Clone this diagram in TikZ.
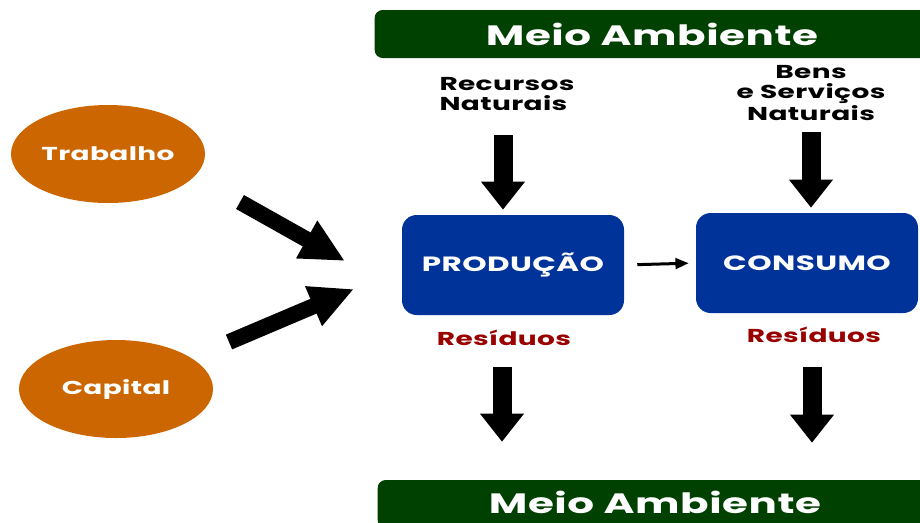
\documentclass[tikz,border=0pt]{standalone}
\usepackage{fontspec}
\setmainfont{Poppins}[FakeStretch=1.5, LetterSpace=2]
\usetikzlibrary{arrows.meta,shapes.geometric,positioning}

\definecolor{ambgreen}{RGB}{0,64,0}
\definecolor{factorange}{RGB}{204,102,0}
\definecolor{sectorblue}{RGB}{0,51,153}
\definecolor{residred}{RGB}{153,0,0}

\tikzset{
  ambbar/.style={fill=ambgreen, rounded corners=6pt, text=white, inner sep=0pt,
    minimum width=416pt, minimum height=36pt, font=\fontsize{21}{24}\selectfont\bfseries},
  factor/.style={ellipse, fill=factorange, text=white, inner sep=0pt,
    minimum width=145.5pt, minimum height=73.5pt, font=\fontsize{14}{16}\selectfont\bfseries},
  sector/.style={fill=sectorblue, rounded corners=11pt, text=white, inner sep=0pt,
    minimum width=166.5pt, minimum height=75pt, font=\fontsize{15.5}{17}\selectfont\bfseries},
  flowtext/.style={inner sep=0pt, font=\fontsize{14}{15}\selectfont\bfseries},
  residtext/.style={inner sep=0pt, text=residred, font=\fontsize{14}{15}\selectfont\bfseries},
  bigarrow/.style={line width=14.25pt, -{Triangle[width=31.5pt,length=21pt]}},
  slantarrow/.style={line width=12pt, -{Triangle[width=30pt,length=33pt]}},
  smallarrow/.style={line width=2.25pt, -{Triangle[width=8pt,length=10pt]}}
}

\begin{document}
\begin{tikzpicture}[x=0.75pt,y=0.75pt,yscale=-1,xscale=1]
\clip (0,0) rectangle (920,522);

% environment bars
\node[ambbar] (amb1) at (652,34) {Meio Ambiente};
\node[ambbar] (amb2) at (655,504) {};
\node[inner sep=0pt, text=white, font=\fontsize{21}{24}\selectfont\bfseries] (amb2txt) at (655,502) {Meio Ambiente};

% factors
\node[factor] (trab) at (108,154) {Trabalho};
\node[factor] (capi) at (116,389) {Capital};

% sectors
\node[sector] (prod) at (513,265) {PRODUÇÃO};
\node[sector] (cons) at (807,263) {CONSUMO};

% inputs
\node[flowtext, align=left] (rec) at (507,94) {Recursos\\Naturais};
\node[flowtext, align=center] (bens) at (811,93) {Bens\\e Serviços\\Naturais};

% residues
\node[residtext] (res1) at (504,338) {Resíduos};
\node[residtext] (res2) at (814,335) {Resíduos};

% slant arrows
\coordinate (trabtail) at (240,202);
\coordinate (trabtip) at (345,261);
\coordinate (capitail) at (229,342);
\coordinate (capitip) at (354,289);
\draw[slantarrow] (trabtail) -- (trabtip);
\draw[slantarrow] (capitail) -- (capitip);

% vertical arrows
\draw[bigarrow, shorten <=30.75pt, shorten >=3.75pt] ([xshift=-3pt]rec.center) -- ([xshift=-3pt]rec.center |- prod.north);
\draw[bigarrow, shorten <=29.25pt, shorten >=3.75pt] (bens.center) -- (bens.center |- cons.north);
\draw[bigarrow, shorten <=21.75pt, shorten >=28.5pt] ([xshift=-1.5pt]res1.center) -- ([xshift=-1.5pt]res1.center |- amb2.north);
\draw[bigarrow, shorten <=24pt, shorten >=27.75pt] ([xshift=-1.5pt]res2.center) -- ([xshift=-1.5pt]res2.center |- amb2.north);

% production to consumption
\draw[smallarrow, shorten <=9.75pt, shorten >=5.25pt] (prod.east) -- (cons.west);

\end{tikzpicture}
\end{document}
